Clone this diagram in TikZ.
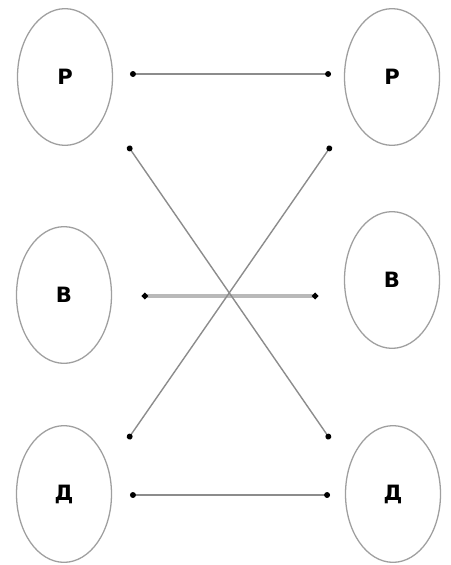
\documentclass[tikz,border=0pt]{standalone}
\usepackage{fontspec}
\setmainfont{DejaVu Sans}
\usetikzlibrary{shapes.geometric,arrows.meta}
\begin{document}
\begin{tikzpicture}[
  x=0.03cm, y=-0.03cm,
  oval/.style={
    draw=gray!75,
    line width=1.1pt,
    ellipse,
    minimum width=2.85cm,
    minimum height=4.1cm,
    font=\bfseries\fontsize{18}{22}\selectfont
  },
  link/.style={
    draw=gray!90,
    line width=1.2pt,
    {Circle[length=5pt,color=black]}-{Circle[length=5pt,color=black]}
  }
]
\useasboundingbox (0,0) rectangle (450,565);
\node[oval] (pl) at (65,77) {Р};
\node[oval] (pr) at (392,77) {Р};
\node[oval] (vl) at (64,295) {В};
\node[oval] (vr) at (392,280) {В};
\node[oval] (dl) at (64,494) {Д};
\node[oval] (dr) at (393,494) {Д};

% free ends of the links
\coordinate (plE) at (130,74);
\coordinate (prW) at (331,74);
\coordinate (plS) at (128,146);
\coordinate (prS) at (331,146);
\coordinate (vlE) at (142,296);
\coordinate (vrW) at (318,296);
\coordinate (dlN) at (128,439);
\coordinate (drN) at (330,439);
\coordinate (dlE) at (130,495);
\coordinate (drW) at (330,495);

\draw[link] (plE) -- (prW);
\draw[link, line width=2.6pt, draw=gray!55] (vlE) -- (vrW);
\draw[link] (dlE) -- (drW);
\draw[link] (plS) -- (drN);
\draw[link] (prS) -- (dlN);
\end{tikzpicture}
\end{document}
